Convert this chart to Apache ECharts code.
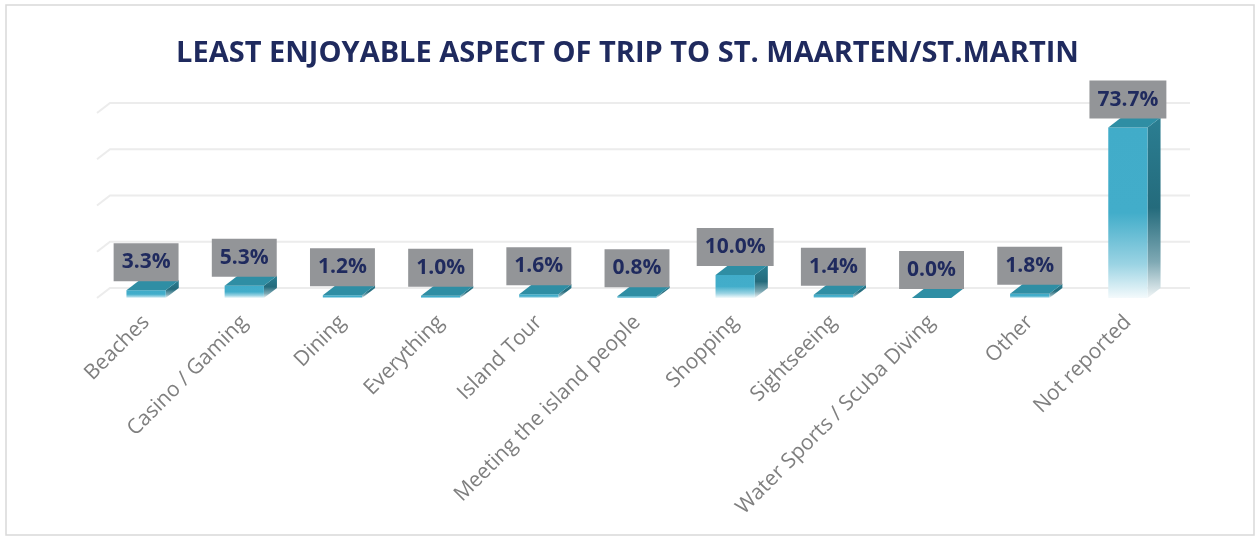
<!DOCTYPE html>
<html>
<head>
<meta charset="utf-8">
<script src="https://cdn.jsdelivr.net/npm/echarts@6/dist/echarts.min.js"></script>
<style>
  html, body { margin: 0; padding: 0; background: #ffffff; }
  #chart { width: 1255px; height: 536px; }
</style>
</head>
<body>
<div id="chart"></div>
<script>
// Survey answers: least enjoyable aspect of the trip (percent of respondents)
const categories = [
  'Beaches', 'Casino / Gaming', 'Dining', 'Everything', 'Island Tour',
  'Meeting the island people', 'Shopping', 'Sightseeing',
  'Water Sports / Scuba Diving', 'Other', 'Not reported'
];
const shares = [3.3, 5.3, 1.2, 1.0, 1.6, 0.8, 10.0, 1.4, 0.0, 1.8, 73.7];
const valueTicks = [0, 20, 40, 60, 80];

// depth of the pseudo-3D box (back plane offset from the front plane)
const DEPTH_X = 13;
const DEPTH_Y = 10;

const chart = echarts.init(document.getElementById('chart'), null, { renderer: 'canvas' });

function renderGridLine(params, api) {
  const cs = params.coordSys;
  const y = api.coord([0, api.value(1)])[1];
  return {
    type: 'polyline',
    silent: true,
    shape: {
      points: [
        [cs.x, y],
        [cs.x + DEPTH_X, y - DEPTH_Y],
        [cs.x + cs.width + DEPTH_X, y - DEPTH_Y]
      ]
    },
    style: { stroke: '#ECECEC', lineWidth: 2, fill: null }
  };
}

function renderBar(params, api) {
  const idx = api.value(0);
  const val = api.value(1);
  const top = api.coord([idx, val]);
  const base = api.coord([idx, 0]);
  const w = api.size([1, 0])[0] * 0.4;
  const cx = top[0];
  const yTop = top[1];
  const y0 = base[1];
  const l = cx - w / 2;
  const r = cx + w / 2;

  const frontFill = new echarts.graphic.LinearGradient(0, 0, 0, 1, [
    { offset: 0, color: '#41ACC9' },
    { offset: 0.5, color: '#42ADCA' },
    { offset: 0.8, color: '#9AD3E3' },
    { offset: 1, color: '#F4FAFC' }
  ]);
  const sideFill = new echarts.graphic.LinearGradient(0, 0, 0, 1, [
    { offset: 0, color: '#2B7E92' },
    { offset: 0.5, color: '#246B7C' },
    { offset: 0.8, color: '#7FA9B4' },
    { offset: 1, color: '#F2F6F7' }
  ]);

  const children = [
    {
      type: 'polygon',
      shape: { points: [[r, yTop], [r + DEPTH_X, yTop - DEPTH_Y], [r + DEPTH_X, y0 - DEPTH_Y], [r, y0]] },
      style: { fill: sideFill }
    },
    {
      type: 'rect',
      shape: { x: l, y: yTop, width: w, height: Math.max(y0 - yTop, 0) },
      style: { fill: frontFill }
    },
    {
      type: 'polygon',
      shape: { points: [[l, yTop], [l + DEPTH_X, yTop - DEPTH_Y], [r + DEPTH_X, yTop - DEPTH_Y], [r, yTop]] },
      style: { fill: '#2F8EA4' }
    },
    {
      type: 'text',
      style: {
        text: val.toFixed(1) + '%',
        x: cx,
        y: yTop - DEPTH_Y + 1,
        align: 'center',
        verticalAlign: 'bottom',
        fontFamily: 'Open Sans',
        fontWeight: 'bold',
        fontSize: 21,
        lineHeight: 24,
        fill: '#1F2A5E',
        backgroundColor: '#939598',
        padding: [7, 8, 7, 8]
      }
    }
  ];
  return { type: 'group', children: children };
}

chart.setOption({
  backgroundColor: '#ffffff',
  animation: false,
  title: {
    text: 'LEAST ENJOYABLE ASPECT OF TRIP TO ST. MAARTEN/ST.MARTIN',
    left: 'center',
    top: 34,
    textStyle: {
      fontFamily: 'Open Sans',
      fontWeight: 'bold',
      fontSize: 29,
      color: '#1F2A5E'
    }
  },
  graphic: [{
    type: 'rect',
    silent: true,
    z: -10,
    shape: { x: 6, y: 5, width: 1248, height: 530 },
    style: { fill: null, stroke: '#D9D9D9', lineWidth: 1.5 }
  }],
  grid: { left: 97, right: 78, top: 113, bottom: 238, containLabel: false },
  xAxis: {
    type: 'category',
    data: categories,
    axisLine: { show: false },
    axisTick: { show: false },
    splitLine: { show: false },
    axisLabel: {
      interval: 0,
      rotate: 45,
      margin: 21,
      color: '#7F7F7F',
      fontFamily: 'Open Sans',
      fontSize: 21
    }
  },
  yAxis: {
    type: 'value',
    min: 0,
    max: 80,
    interval: 20,
    axisLine: { show: false },
    axisTick: { show: false },
    axisLabel: { show: false },
    splitLine: { show: false }
  },
  series: [
    {
      type: 'custom',
      renderItem: renderGridLine,
      data: valueTicks.map(v => [0, v]),
      encode: { x: 0, y: 1 },
      z: 1,
      silent: true
    },
    {
      type: 'custom',
      renderItem: renderBar,
      data: shares.map((v, i) => [i, v]),
      encode: { x: 0, y: 1 },
      z: 2,
      silent: true
    }
  ]
});
</script>
</body>
</html>
